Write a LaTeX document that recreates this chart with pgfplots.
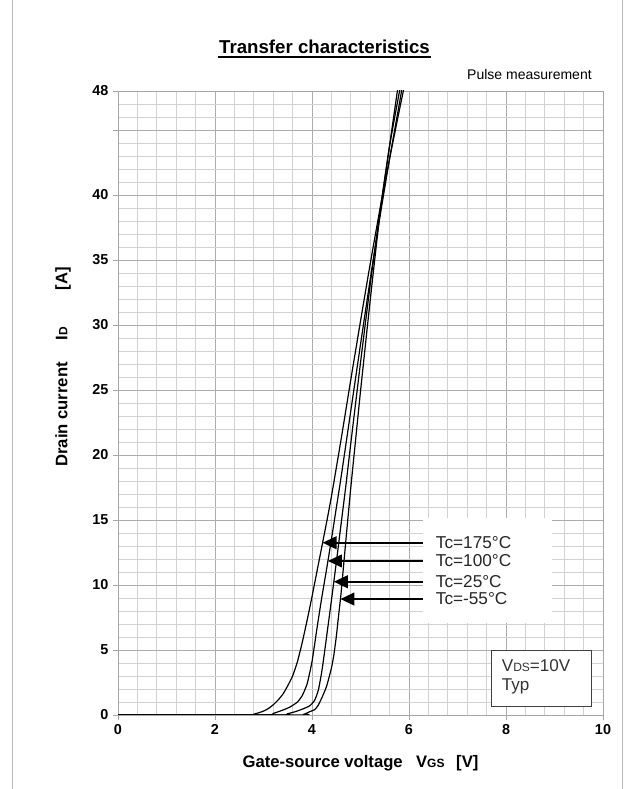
\documentclass[border=0pt]{standalone}
\usepackage{fontspec}
\setmainfont{Liberation Sans}
\usepackage{pgfplots}
\pgfplotsset{compat=1.18}
\usetikzlibrary{arrows.meta}
\newcommand{\smallsub}[1]{{\fontsize{9}{10}\selectfont #1}}
\begin{document}
\begin{tikzpicture}[x=0.75pt,y=0.75pt]
\path[use as bounding box] (0,0) rectangle (634,789);
\draw[gray!55, line width=0.75pt] (12,0) -- (12,789);
\draw[gray!55, line width=0.75pt] (622,0) -- (622,789);
\node[font=\fontsize{14}{16}\selectfont\bfseries, inner sep=0pt] at (324.5,742) {Transfer characteristics};
\draw[line width=1.1pt] (218,732) -- (431,732);
\node[font=\fontsize{10.5}{12}\selectfont, anchor=east, inner sep=0pt] at (592,714) {Pulse measurement};
\node[font=\fontsize{12.5}{14}\selectfont\bfseries, inner sep=0pt] at (360.5,26) {Gate-source voltage\hspace{0.8em}V\smallsub{GS}\hspace{0.7em}[V]};
\node[font=\fontsize{12.5}{14}\selectfont\bfseries, inner sep=0pt, rotate=90] at (63,422) {Drain current\hspace{1.3em}I\smallsub{D}\hspace{2.2em}[A]};
\begin{axis}[
  at={(88.5pt,55.5pt)}, anchor=south west,
  scale only axis, width=363.75pt, height=468pt,
  xmin=0, xmax=10, ymin=0, ymax=48,
  xtick={0,2,...,10},
  ytick={0,5,10,15,20,25,30,35,40,45,48},
  yticklabels={0,5,10,15,20,25,30,35,40,,48},
  minor xtick={0.4,0.8,1.2,1.6,2.4,2.8,3.2,3.6,4.4,4.8,5.2,5.6,6.4,6.8,7.2,7.6,8.4,8.8,9.2,9.6},
  minor ytick={1,2,3,4,6,7,8,9,11,12,13,14,16,17,18,19,21,22,23,24,26,27,28,29,31,32,33,34,36,37,38,39,41,42,43,44,46,47},
  grid=both,
  major grid style={gray!65, line width=0.6pt},
  minor grid style={gray!35, line width=0.6pt},
  axis line style={gray!70, line width=0.6pt},
  tick pos=left, tick align=outside,
  major tick length=3.75pt, minor tick length=0pt,
  tick style={gray!70, line width=0.6pt},
  ticklabel style={font=\fontsize{10.8}{12}\selectfont\bfseries},
  /pgf/number format/assume math mode=true,
  clip=true,
]
% Tc=175C
\addplot[black, line width=0.9pt, smooth, tension=0.3] coordinates {
(0,0) (2.6,0) (2.8,0.06) (3.0,0.3) (3.1,0.5) (3.2,0.78) (3.3,1.15) (3.4,1.6) (3.5,2.25) (3.6,3.0) (3.7,4.1) (3.8,5.6) (3.9,7.3) (4.0,9.1) (4.1,11.0) (4.2,12.9) (4.3,14.8) (4.4,16.8) (4.6,21.2) (4.8,25.8) (5.0,30.3) (5.2,34.7) (5.4,38.9) (5.6,42.8) (5.8,46.5) (5.9,48.3) (5.95,49.2)
};
% Tc=100C
\addplot[black, line width=0.9pt, smooth, tension=0.3] coordinates {
(0,0) (3.0,0) (3.2,0.12) (3.4,0.38) (3.55,0.62) (3.7,1.0) (3.8,1.5) (3.9,2.4) (4.0,4.1) (4.1,6.6) (4.2,9.0) (4.3,11.2) (4.4,13.5) (4.5,15.9) (4.6,18.3) (4.8,23.4) (5.0,28.5) (5.2,33.5) (5.4,38.3) (5.6,42.8) (5.8,47.0) (5.87,48.5) (5.92,49.4)
};
% Tc=25C
\addplot[black, line width=0.9pt, smooth, tension=0.3] coordinates {
(0,0) (3.35,0) (3.5,0.1) (3.65,0.25) (3.8,0.45) (3.95,0.7) (4.05,1.1) (4.13,1.9) (4.2,3.3) (4.25,4.6) (4.3,6.0) (4.4,8.8) (4.5,11.7) (4.6,14.7) (4.7,17.7) (4.8,20.9) (5.0,27.1) (5.2,33.1) (5.4,38.7) (5.6,43.8) (5.82,48.3) (5.87,49.3)
};
% Tc=-55C
\addplot[black, line width=0.9pt, smooth, tension=0.3] coordinates {
(0,0) (3.75,0) (3.85,0.08) (3.95,0.25) (4.05,0.4) (4.12,0.7) (4.2,1.3) (4.3,2.2) (4.4,3.6) (4.45,4.6) (4.5,6.0) (4.55,7.7) (4.6,9.4) (4.7,13.5) (4.8,17.5) (4.9,21.2) (5.0,24.9) (5.2,31.9) (5.4,38.5) (5.6,43.8) (5.76,48.0) (5.8,49.0)
};
% legend background
\fill[white] (axis cs:6.29,7.08) rectangle (axis cs:8.95,15.15);
\draw[black, line width=1.5pt, -{Triangle[length=10.5pt,width=9.5pt]}] (axis cs:6.29,13.25) -- (axis cs:4.218,13.25);
\draw[black, line width=1.5pt, -{Triangle[length=10.5pt,width=9.5pt]}] (axis cs:6.29,11.85) -- (axis cs:4.328,11.85);
\draw[black, line width=1.5pt, -{Triangle[length=10.5pt,width=9.5pt]}] (axis cs:6.29,10.25) -- (axis cs:4.45,10.25);
\draw[black, line width=1.5pt, -{Triangle[length=10.5pt,width=9.5pt]}] (axis cs:6.29,8.92) -- (axis cs:4.586,8.92);
\node[anchor=west, inner sep=0pt, text=black!85, font=\fontsize{12.9}{14}\selectfont] at (axis cs:6.55,13.25) {Tc=175°C};
\node[anchor=west, inner sep=0pt, text=black!85, font=\fontsize{12.9}{14}\selectfont] at (axis cs:6.55,11.85) {Tc=100°C};
\node[anchor=west, inner sep=0pt, text=black!85, font=\fontsize{12.9}{14}\selectfont] at (axis cs:6.55,10.25) {Tc=25°C};
\node[anchor=west, inner sep=0pt, text=black!85, font=\fontsize{12.9}{14}\selectfont] at (axis cs:6.55,8.92) {Tc=-55°C};
% VDS box
\filldraw[fill=white, draw=black!75, line width=0.75pt] (axis cs:7.70,0.62) rectangle (axis cs:9.76,4.94);
\node[anchor=west, inner sep=0pt, text=black!80, font=\fontsize{12.8}{14}\selectfont] at (axis cs:7.91,3.77) {V\smallsub{DS}=10V};
\node[anchor=west, inner sep=0pt, text=black!80, font=\fontsize{12.8}{14}\selectfont] at (axis cs:7.91,2.18) {Typ};
\end{axis}
\end{tikzpicture}
\end{document}
